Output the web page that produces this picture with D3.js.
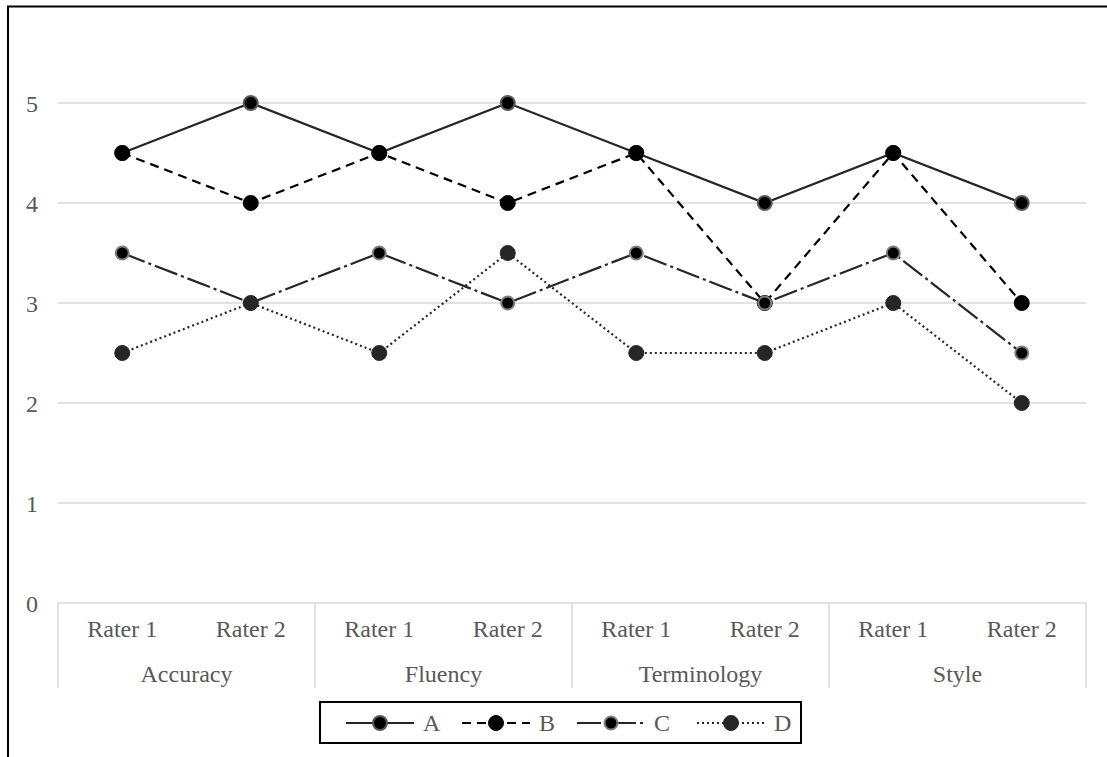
<!DOCTYPE html>
<html><head><meta charset="utf-8">
<script src="https://cdn.jsdelivr.net/npm/d3@7"></script>
<style>body{margin:0;background:#fff}svg{display:block}</style>
</head><body>
<svg id="c" width="1107" height="757"></svg>
<script>
const groups = ["Accuracy","Fluency","Terminology","Style"];
const raters = ["Rater 1","Rater 2"];
const yTicks = [0,1,2,3,4,5];
const seriesNames = ["A","B","C","D"];
const valsA = [4.5,5,4.5,5,4.5,4,4.5,4];
const valsB = [4.5,4,4.5,4,4.5,3,4.5,3];
const valsC = [3.5,3,3.5,3,3.5,3,3.5,2.5];
const valsD = [2.5,3,2.5,3.5,2.5,2.5,3,2];

const series = [
  {name:"A", values:valsA, dash:null, color:"#262626", r:7, mfill:"#000", mstroke:"#595959", msw:2},
  {name:"B", values:valsB, dash:"9,6", color:"#000", r:7.5, mfill:"#000", mstroke:"#000", msw:1},
  {name:"C", values:valsC, dash:"24,4,3,4", color:"#262626", r:6.5, mfill:"#000", mstroke:"#7f7f7f", msw:2},
  {name:"D", values:valsD, dash:"2,3", color:"#262626", r:7.5, mfill:"#262626", mstroke:"#262626", msw:1}
];

const svg = d3.select("#c");
const L=58, R=1086, T=103, B=603;
const cats = [];
groups.forEach(g=>raters.forEach(r=>cats.push(g+"|"+r)));
const x = d3.scaleBand().domain(cats).range([L,R]);
const xg = d3.scaleBand().domain(groups).range([L,R]);
const y = d3.scaleLinear().domain([0,5]).range([B,T]);
const font = "'Liberation Serif','Times New Roman',serif";
const fs = 24;

// outer frame
svg.append("rect").attr("x",8).attr("y",6.5).attr("width",1200).attr("height",800)
  .attr("fill","none").attr("stroke","#000").attr("stroke-width",2);

// grid
svg.append("g").selectAll("line").data(yTicks).join("line")
  .attr("x1",L).attr("x2",R).attr("y1",d=>y(d)).attr("y2",d=>y(d))
  .attr("stroke","#d9d9d9").attr("stroke-width",1.5);

// y labels
svg.append("g").selectAll("text").data(yTicks).join("text")
  .attr("x",38).attr("y",d=>y(d)+8.5).attr("text-anchor","end")
  .attr("font-family",font).attr("font-size",fs).attr("fill","#595959").text(d=>d);

// x separators
const seps = groups.map(g=>xg(g)).concat([R]);
svg.append("g").selectAll("line").data(seps).join("line")
  .attr("x1",d=>d).attr("x2",d=>d).attr("y1",B).attr("y2",688)
  .attr("stroke","#d9d9d9").attr("stroke-width",1.5);

// x labels
svg.append("g").selectAll("text").data(cats).join("text")
  .attr("x",d=>x(d)+x.bandwidth()/2).attr("y",637).attr("text-anchor","middle")
  .attr("font-family",font).attr("font-size",fs).attr("fill","#595959").text(d=>d.split("|")[1]);
svg.append("g").selectAll("text").data(groups).join("text")
  .attr("x",d=>xg(d)+xg.bandwidth()/2).attr("y",682).attr("text-anchor","middle")
  .attr("font-family",font).attr("font-size",fs).attr("fill","#595959").text(d=>d);

// lines
const line = d3.line().x((d,i)=>x(cats[i])+x.bandwidth()/2).y(d=>y(d));
series.forEach(s=>{
  svg.append("path").attr("d",line(s.values)).attr("fill","none")
    .attr("stroke",s.color).attr("stroke-width",2.2)
    .attr("stroke-dasharray",s.dash);
});
series.forEach(s=>{
  svg.append("g").selectAll("circle").data(s.values).join("circle")
    .attr("cx",(d,i)=>x(cats[i])+x.bandwidth()/2).attr("cy",d=>y(d)).attr("r",s.r)
    .attr("fill",s.mfill).attr("stroke",s.mstroke).attr("stroke-width",s.msw);
});

// legend
const lg = svg.append("g");
lg.append("rect").attr("x",320).attr("y",702).attr("width",481).attr("height",41)
  .attr("fill","#fff").attr("stroke","#000").attr("stroke-width",2);
const lx = [346,462,577,697];
const lcy = 723;
series.forEach((s,i)=>{
  const x0 = lx[i], w = 68;
  lg.append("line").attr("x1",x0).attr("x2",x0+w).attr("y1",lcy).attr("y2",lcy)
    .attr("stroke",s.color).attr("stroke-width",2.2).attr("stroke-dasharray",s.dash);
  lg.append("circle").attr("cx",x0+w/2).attr("cy",lcy).attr("r",s.r)
    .attr("fill",s.mfill).attr("stroke",s.mstroke).attr("stroke-width",s.msw);
  lg.append("text").attr("x",x0+w+9).attr("y",lcy+8).attr("font-family",font)
    .attr("font-size",fs).attr("fill","#595959").text(s.name);
});
</script>
</body></html>
